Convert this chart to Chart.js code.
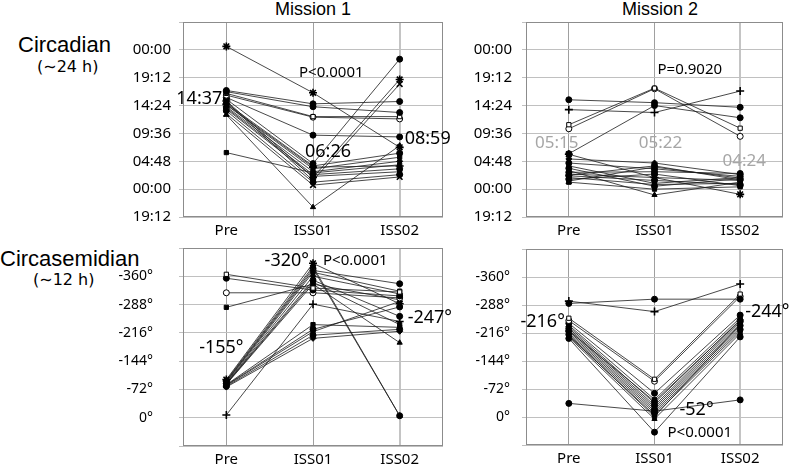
<!DOCTYPE html>
<html>
<head>
<meta charset="utf-8">
<script src="https://cdn.jsdelivr.net/npm/chart.js@4.4.1/dist/chart.umd.min.js"></script>
<style>
  body { margin: 0; width: 790px; height: 465px; background: #fff; position: relative; overflow: hidden; font-family: "Liberation Sans", Arial, sans-serif; }
  .t { position: absolute; color: #000; white-space: nowrap; line-height: 1; }
  canvas { position: absolute; }
</style>
</head>
<body>
<div class="t" style="left:263px;top:0px;width:100px;text-align:center;font-size:18px;">Mission 1</div>
<div class="t" style="left:610px;top:0px;width:100px;text-align:center;font-size:18px;">Mission 2</div>
<div class="t" style="left:18px;top:34px;font-size:22px;">Circadian</div>
<div class="t" style="left:37px;top:59px;font-size:16px;font-family:'DejaVu Sans';">(∼24 h)</div>
<div class="t" style="left:0px;top:248px;font-size:22px;">Circasemidian</div>
<div class="t" style="left:33px;top:272px;font-size:16px;font-family:'DejaVu Sans';">(∼12 h)</div>

<canvas id="tl" width="350" height="240" style="left:100px;top:0px;"></canvas>
<canvas id="tr" width="340" height="240" style="left:450px;top:0px;"></canvas>
<canvas id="bl" width="370" height="225" style="left:100px;top:240px;"></canvas>
<canvas id="br" width="340" height="225" style="left:450px;top:240px;"></canvas>

<script>
const CATEGORIES = ["Pre", "ISS01", "ISS02"];

// y ticks: acrophase in clock hours (wrapped), and phase in degrees
const TIME_TICK_VALUES = [-4.8, 0, 4.8, 9.6, 14.4, 19.2, 24, 28.8];
const TIME_TICK_LABELS = ["19:12", "00:00", "04:48", "09:36", "14:24", "19:12", "00:00", ""];
const PHASE_TICK_VALUES = [-432, -360, -288, -216, -144, -72, 0, 72];
const PHASE_TICK_LABELS = ["", "-360°", "-288°", "-216°", "-144°", "-72°", "0°", ""];

// one row per subject: [Pre, ISS01, ISS02]
const M1_CIRCADIAN = [
  [24.6, 16.6, 7.2], [6.3, 2.8, 4.2], [17.0, 14.7, 15.1], [16.8, 14.2, 13.2],
  [16.5, 12.5, 12.5], [16.2, 12.4, 12.1], [15.8, 9.3, 9.0], [15.5, 4.4, 22.4],
  [15.2, 2.0, 18.9], [15.0, 1.5, 18.1], [14.8, 4.0, 6.2], [14.5, 3.5, 5.5],
  [14.2, 3.0, 4.8], [14.0, 2.5, 3.5], [13.8, 2.2, 3.0], [13.5, 1.2, 2.5],
  [13.0, 0.7, 2.1], [12.8, -3.1, 7.5], [14.6, 3.8, 4.0]
];
const M2_CIRCADIAN = [
  [15.4, 14.9, 14.1], [13.7, 13.2, 16.9], [11.1, 17.4, 10.5], [10.4, 17.3, 9.1],
  [6.1, 14.4, 12.3], [6.0, 2.0, -0.9], [5.2, 4.5, 2.5], [4.5, 3.5, 2.2],
  [4.0, 1.0, 2.0], [3.6, 0.5, 1.8], [3.2, -1.0, 1.2], [2.9, 3.0, 2.7],
  [2.6, 2.0, 1.5], [2.3, 1.5, 0.8], [2.0, 0.8, 1.0], [1.7, 2.6, 0.6],
  [1.4, 3.8, 1.9], [1.2, 0.0, 0.4], [2.4, 4.0, 1.6]
];
const M1_CIRCASEMIDIAN = [
  [-365, -330, -320], [-355, -325, -310], [-318, -318, -305], [-281, -340, -300],
  [-97, -393, -290], [-95, -385, -5], [-93, -380, -5], [-92, -375, -341],
  [-90, -370, -322], [-88, -360, -315], [-87, -350, -258], [-86, -345, -237],
  [-85, -340, -191], [-84, -237, -230], [-83, -225, -282], [-82, -219, -296],
  [-80, -210, -225], [-78, -202, -220], [-7, -289, -245]
];
const M2_CIRCASEMIDIAN = [
  [-292, -303, -303], [-298, -271, -342], [-254, -97, -316], [-248, -92, -310],
  [-241, -61, -262], [-236, -45, -255], [-232, -36, -250], [-228, -30, -245],
  [-224, -25, -240], [-220, -20, -235], [-216, -15, -230], [-212, -10, -225],
  [-208, -5, -220], [-205, 5, -215], [-202, 39, -206], [-210, -1, -238],
  [-35, -15, -44], [-222, -40, -248]
];

// marker per subject (o / s = open circle / open square)
const M1_MARKS = ["star", "rect", "circle", "circle", "s", "o", "circle", "circle", "star", "crossRot",
  "circle", "rect", "rectRot", "circle", "rect", "circle", "crossRot", "triangle", "cross"];
const M2_MARKS = ["circle", "cross", "s", "o", "circle", "star", "rectRot", "circle", "rect", "circle",
  "triangle", "circle", "rect", "circle", "rect", "circle", "crossRot", "rect", "circle"];
const M1_PHASE_MARKS = ["s", "circle", "o", "rect", "star", "triangle", "circle", "circle", "rect", "rectRot",
  "circle", "rect", "triangle", "rect", "circle", "rect", "circle", "rectRot", "cross"];
const M2_PHASE_MARKS = ["circle", "cross", "s", "o", "circle", "rect", "rectRot", "circle", "rect", "circle",
  "rect", "circle", "rect", "triangle", "circle", "rect", "circle", "circle"];

function markStyle(m) {
  const open = m === "o" || m === "s";
  const thin = m === "star" || m === "cross" || m === "crossRot";
  return {
    pointStyle: m === "o" ? "circle" : m === "s" ? "rect" : m,
    pointBackgroundColor: open ? "#fff" : "#000",
    pointBorderColor: "#000",
    pointBorderWidth: thin ? 1.6 : 1,
    pointRadius: thin ? 4 : 3
  };
}

const boxAndNotes = {
  id: "boxAndNotes",
  afterDraw(chart, args, opts) {
    const { ctx, chartArea: a, scales } = chart;
    ctx.save();
    ctx.strokeStyle = "#8c8c8c";
    ctx.lineWidth = 1;
    ctx.strokeRect(a.left + 0.5, a.top + 0.5, a.right - a.left - 1, a.bottom - a.top - 1);
    (opts.notes || []).forEach(n => {
      ctx.font = n.size + 'px "Noto Sans"';
      ctx.fillStyle = n.color || "#000";
      ctx.textAlign = n.align;
      ctx.textBaseline = "middle";
      ctx.fillText(n.text, scales.x.getPixelForValue(n.i) + n.dx, scales.y.getPixelForValue(n.v));
    });
    ctx.restore();
  }
};

function panel(id, rows, marks, kind, notes, pad, yWidth, yPad, xHeight) {
  const tickValues = kind === "time" ? TIME_TICK_VALUES : PHASE_TICK_VALUES;
  const tickLabels = kind === "time" ? TIME_TICK_LABELS : PHASE_TICK_LABELS;
  new Chart(document.getElementById(id), {
    type: "line",
    data: {
      labels: CATEGORIES,
      datasets: rows.map((r, k) => Object.assign({
        data: r,
        borderColor: "#1a1a1a",
        borderWidth: 0.8,
        fill: false,
        tension: 0
      }, markStyle(marks[k])))
    },
    plugins: [boxAndNotes],
    options: {
      responsive: false,
      animation: false,
      layout: { padding: pad },
      plugins: { legend: { display: false }, tooltip: { enabled: false }, boxAndNotes: { notes: notes } },
      scales: {
        x: {
          offset: true,
          border: { display: false },
          grid: { color: (c) => c.index === 2 ? "#c4c4c4" : "#a0a0a0", lineWidth: (c) => c.index === 2 ? 2 : 1, drawTicks: false },
          ticks: { color: "#000", font: { family: "Noto Sans", size: 15 }, padding: 5, maxRotation: 0 },
          afterFit: (s) => { s.height = xHeight; s.paddingLeft = 0; s.paddingRight = 0; }
        },
        y: {
          min: tickValues[0],
          max: tickValues[tickValues.length - 1],
          reverse: kind !== "time",
          border: { display: false },
          grid: { color: "#c0c0c0", tickLength: 4 },
          afterBuildTicks: (s) => { s.ticks = tickValues.map(v => ({ value: v })); },
          ticks: {
            color: "#000",
            font: { family: "Noto Sans", size: kind === "time" ? 15 : 14 },
            padding: yPad,
            callback: (v) => tickLabels[tickValues.findIndex(t => Math.abs(t - v) < 1e-6)]
          },
          afterFit: (s) => { s.width = yWidth; s.paddingTop = 0; s.paddingBottom = 0; }
        }
      }
    }
  });
}

panel("tl", M1_CIRCADIAN, M1_MARKS, "time", [
  { text: "14:37", i: 0, v: 15.6, dx: -4, align: "right", size: 18 },
  { text: "P<0.0001", i: 1, v: 20.1, dx: -14, align: "left", size: 15 },
  { text: "06:26", i: 1, v: 6.4, dx: -8, align: "left", size: 18 },
  { text: "08:59", i: 2, v: 8.6, dx: 5, align: "left", size: 18 }
], { top: 22, right: 7, left: 0, bottom: 0 }, 83, 8, 23);

panel("tr", M2_CIRCADIAN, M2_MARKS, "time", [
  { text: "P=0.9020", i: 1, v: 20.6, dx: 3, align: "left", size: 15 },
  { text: "05:15", i: 0, v: 7.9, dx: -12, align: "center", size: 17, color: "#a6a6a6" },
  { text: "05:22", i: 1, v: 7.9, dx: 6, align: "center", size: 17, color: "#a6a6a6" },
  { text: "04:24", i: 2, v: 4.8, dx: 4, align: "center", size: 17, color: "#a6a6a6" }
], { top: 22, right: 7, left: 0, bottom: 0 }, 76, 10, 23);

panel("bl", M1_CIRCASEMIDIAN, M1_PHASE_MARKS, "phase", [
  { text: "-155°", i: 0, v: -177, dx: -5, align: "center", size: 18 },
  { text: "-320°", i: 1, v: -399, dx: -4, align: "right", size: 18 },
  { text: "P<0.0001", i: 1, v: -399, dx: 10, align: "left", size: 15 },
  { text: "-247°", i: 2, v: -255, dx: 8, align: "left", size: 18 }
], { top: 8, right: 27, left: 0, bottom: 0 }, 83, 26, 19);

panel("br", M2_CIRCASEMIDIAN, M2_PHASE_MARKS, "phase", [
  { text: "-216°", i: 0, v: -245, dx: -4, align: "right", size: 18 },
  { text: "-244°", i: 2, v: -270, dx: 5, align: "left", size: 18 },
  { text: "-52°", i: 1, v: -18, dx: 25, align: "left", size: 18 },
  { text: "P<0.0001", i: 1, v: 41, dx: 13, align: "left", size: 15 }
], { top: 9, right: 7, left: 0, bottom: 0 }, 76, 12, 20);
</script>
</body>
</html>
